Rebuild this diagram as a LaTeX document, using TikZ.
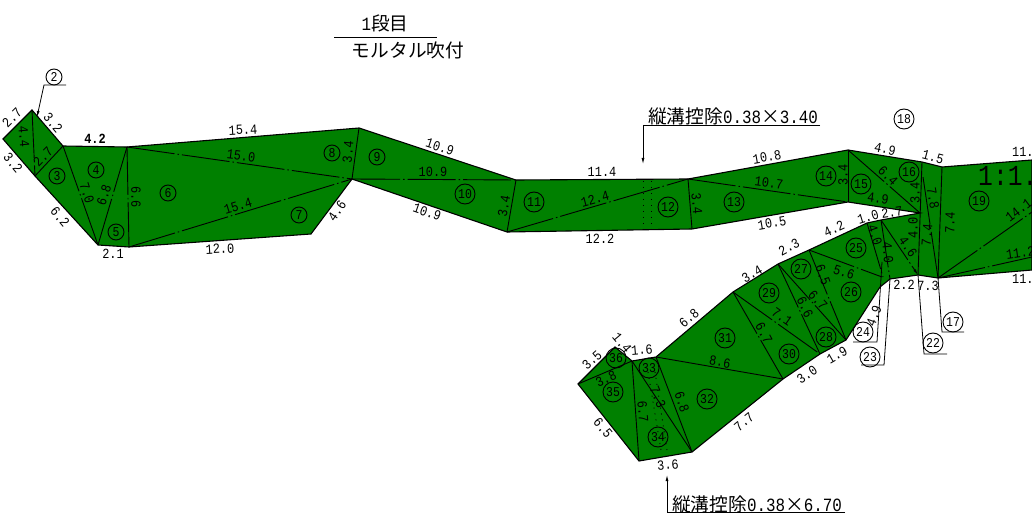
\documentclass[tikz,border=0pt]{standalone}
\usepackage{fontspec}
\setmainfont[FakeStretch=0.85]{Liberation Mono}
\newfontfamily\jpfont{Noto Sans CJK JP}
\usetikzlibrary{arrows.meta}
\definecolor{slopegreen}{RGB}{0,128,0}
\tikzset{
  outline/.style={draw=black,line width=1.1pt,fill=slopegreen},
  inner/.style={draw=black,line width=.9pt},
  centerline/.style={inner,dash pattern=on 48pt off 3pt on 1.5pt off 3pt},
  dotline/.style={draw=black,line width=.9pt,dash pattern=on 1pt off 5pt},
  leader/.style={draw=black,line width=.8pt},
  lbl/.style={inner sep=0pt,font=\fontsize{14}{15}\selectfont},
  numc/.style={draw=black,circle,inner sep=0pt,minimum size=16pt,line width=.9pt,font=\fontsize{13.5}{15}\selectfont},
  numw/.style={numc,minimum size=20pt},
  note/.style={inner sep=0pt,font=\fontsize{18.7}{20}\selectfont}
}
\begin{document}
\begin{tikzpicture}[x=1pt,y=-1pt]
\useasboundingbox (0,0) rectangle (1032,518);
\clip (0,0) rectangle (1032,518);

% outer edge
\coordinate (a1) at (32,110);
\coordinate (a2) at (63,146);
\coordinate (a3) at (127,147);
\coordinate (a4) at (359,128);
\coordinate (a5) at (516,180);
\coordinate (a6) at (688,179);
\coordinate (a7) at (848,150);
\coordinate (a8) at (922,162);
\coordinate (a9) at (942,167);
\coordinate (b1) at (938,278);
\coordinate (b2) at (918,275);
\coordinate (b3) at (890,279);
\coordinate (b4) at (880,287);
\coordinate (b5) at (846,340);
\coordinate (b6) at (820,354);
\coordinate (b7) at (783,379);
\coordinate (b8) at (692,452);
\coordinate (b9) at (639,461);
\coordinate (c1) at (578,384);
\coordinate (c2) at (615,347);
\coordinate (c3) at (632,361);
\coordinate (c4) at (656,357);
\coordinate (c5) at (733,292);
\coordinate (c6) at (778,264);
\coordinate (c7) at (809,250);
\coordinate (c8) at (867,223);
\coordinate (c9) at (881,220);
\coordinate (d1) at (920,213);
\coordinate (d2) at (848,202);
\coordinate (d3) at (692,229);
\coordinate (d4) at (507,232);
\coordinate (d5) at (352,179);
\coordinate (d6) at (311,234);
\coordinate (d7) at (129,247);
\coordinate (d8) at (98,245);
\coordinate (d9) at (35,176);
\coordinate (e1) at (3,139);
\coordinate (e2) at (1032,160);
\coordinate (e3) at (1032,270);
\coordinate (e4) at (1032,212);
\coordinate (e5) at (1032,257);
\coordinate (e6) at (923,177);

\draw[outline] (a1) -- (a2) -- (a3) -- (a4) -- (a5) -- (a6) -- (a7) -- (a8) -- (a9) -- (e2) -- (e3)
  -- (b1) -- (b2) -- (b3) -- (b4) -- (b5) -- (b6) -- (b7) -- (b8) -- (b9) -- (c1) -- (c2) -- (c3)
  -- (c4) -- (c5) -- (c6) -- (c7) -- (c8) -- (c9) -- (d1) -- (d2) -- (d3) -- (d4) -- (d5) -- (d6)
  -- (d7) -- (d8) -- (d9) -- (e1) -- cycle;

% inner lines
\draw[centerline] (a1) -- (d9);
\draw[inner] (d9) -- (a2);
\draw[centerline] (a2) -- (d8);
\draw[centerline] (d8) -- (a3);
\draw[centerline] (a3) -- (d7);
\draw[centerline] (a3) -- (d5);
\draw[centerline] (d7) -- (d5);
\draw[inner] (a4) -- (d5);
\draw[centerline] (d5) -- (a5);
\draw[inner] (a5) -- (d4);
\draw[centerline] (d4) -- (a6);
\draw[inner] (a6) -- (d3);
\draw[centerline] (a6) -- (d2);
\draw[inner] (a7) -- (d2);
\draw[centerline] (a7) -- (d1);
\draw[inner] (a8) -- (b2);
\draw[inner] (a9) -- (b1);
\draw[centerline] (e6) -- (b1);
\draw[centerline] (b1) -- (e4);
\draw[centerline] (b1) -- (e5);
\draw[centerline,-{Latex[length=6pt,width=3pt]}] (c9) -- (b2);
\draw[centerline] (c9) -- (b3);
\draw[centerline] (c8) -- (883,277);
\draw[centerline] (c7) -- (882,277);
\draw[centerline] (c7) -- (b5);
\draw[centerline] (c6) -- (b6);
\draw[centerline] (c6) -- (b5);
\draw[centerline] (c5) -- (b6);
\draw[centerline] (c5) -- (b7);
\draw[inner] (c4) -- (b7);
\draw[inner] (c4) -- (b8);
\draw[inner] (c3) -- (b8);
\draw[inner] (c3) -- (b9);
\draw[inner] (c1) -- (c3);

% dotted lines of the ditch
\draw[dotline] (643,181) -- (643,229);
\draw[dotline] (651,181) -- (651,229);
\draw[dotline] (655,372) -- (667,450);
\draw[dotline] (648,372) -- (661,450);

% length labels, left part
\node[lbl,rotate=45] (l1) at (12,118) {2.7};
\node[lbl,rotate=-85] (l2) at (24,137) {4.4};
\node[lbl,rotate=-50] (l3) at (53,123) {3.2};
\node[lbl,rotate=-50] (l4) at (13,163) {3.2};
\node[lbl,rotate=45] (l5) at (43,157) {2.7};
\node[lbl,font=\fontsize{14}{15}\selectfont\bfseries] (l6) at (95,139) {4.2};
\node[lbl,rotate=3] (l7) at (243,130) {15.4};
\node[lbl,rotate=-7] (l8) at (241,156) {15.0};
\node[lbl,rotate=-72] (l9) at (87,193) {7.0};
\node[lbl,rotate=72] (l10) at (104,195) {6.8};
\node[lbl,rotate=-90] (l11) at (136,197) {6.6};
\node[lbl,rotate=-50] (l12) at (60,217) {6.2};
\node[lbl] (l13) at (113,254) {2.1};
\node[lbl,rotate=3] (l14) at (220,249) {12.0};
\node[lbl,rotate=17] (l15) at (238,206) {15.4};
\node[lbl,rotate=55] (l16) at (337,211) {4.6};
\node[lbl,rotate=85] (l17) at (348,152) {3.4};
\node[lbl,rotate=-18] (l18) at (440,147) {10.9};
\node[lbl] (l19) at (433,172) {10.9};
\node[lbl,rotate=-19] (l20) at (427,212) {10.9};
\node[lbl,rotate=80] (l21) at (504,206) {3.4};
\node[lbl] (l22) at (602,172) {11.4};
\node[lbl,rotate=15] (l23) at (595,199) {12.4};
\node[lbl] (l24) at (600,239) {12.2};
\node[lbl,rotate=-85] (l25) at (697,204) {3.4};
\node[lbl,rotate=10] (l26) at (767,157) {10.8};
\node[lbl,rotate=-8] (l27) at (769,183) {10.7};
\node[lbl,rotate=10] (l28) at (772,223) {10.5};
\node[lbl,rotate=90] (l29) at (843,175) {3.4};
\node[lbl,rotate=-12] (l30) at (885,149) {4.9};
\node[lbl,rotate=-45] (l31) at (888,176) {6.4};
\node[lbl,rotate=-8] (l32) at (878,198) {4.9};
\node[lbl,rotate=-15] (l33) at (933,157) {1.5};
\node[lbl,rotate=90] (l34) at (915,193) {3.4};
\node[lbl,rotate=-80] (l35) at (933,198) {7.8};
\node[lbl,rotate=88] (l36) at (950,223) {7.4};
\node[lbl,rotate=85] (l37) at (927,235) {7.4};
\node[lbl,rotate=90] (l38) at (913,228) {4.0};
\node[lbl,rotate=-55] (l39) at (908,247) {4.6};
\node[lbl,rotate=-85] (l40) at (888,253) {4.0};
\node[lbl,rotate=-72] (l41) at (875,235) {4.0};
\node[lbl,rotate=17] (l42) at (868,217) {1.0};
\node[lbl,rotate=8] (l43) at (892,212) {2.7};
\node[lbl,rotate=25] (l44) at (834,229) {4.2};
\node[lbl,rotate=28] (l45) at (789,247) {2.3};
\node[lbl,rotate=-18] (l46) at (844,272) {5.6};
\node[lbl,rotate=-70] (l47) at (823,275) {6.5};
\node[lbl,rotate=-48] (l48) at (818,300) {6.7};
\node[lbl,rotate=-65] (l49) at (805,307) {6.6};
\node[lbl,rotate=-35] (l50) at (782,317) {7.1};
\node[lbl,rotate=-62] (l51) at (764,333) {6.7};
\node[lbl,rotate=30] (l52) at (752,274) {3.4};
\node[lbl,rotate=40] (l53) at (689,318) {6.8};
\node[lbl,rotate=-10] (l54) at (720,362) {8.6};
\node[lbl,rotate=35] (l55) at (807,375) {3.0};
\node[lbl,rotate=30] (l56) at (837,355) {1.9};
\node[lbl] (l57) at (904,285) {2.2};
\node[lbl] (l58) at (928,286) {7.3};
\node[lbl,rotate=70] (l59) at (874,316) {4.9};
\node[lbl,rotate=-50] (l60) at (622,343) {1.4};
\node[lbl,rotate=5] (l61) at (642,350) {1.6};
\node[lbl,rotate=42] (l62) at (592,360) {3.5};
\node[lbl,rotate=25] (l63) at (606,379) {3.8};
\node[lbl,rotate=-68] (l64) at (658,397) {7.3};
\node[lbl,rotate=-72] (l65) at (682,402) {6.8};
\node[lbl,rotate=-85] (l66) at (643,412) {6.7};
\node[lbl,rotate=40] (l67) at (744,422) {7.7};
\node[lbl,rotate=-50] (l68) at (603,428) {6.5};
\node[lbl,rotate=5] (l69) at (668,465) {3.6};
\node[lbl,anchor=west] (l70) at (1012,152) {11.};
\node[lbl,rotate=37,anchor=west] (l71) at (1007,219) {14.1};
\node[lbl,rotate=8,anchor=west] (l72) at (1006,255) {11.2};
\node[lbl,anchor=west] (l73) at (1012,279) {11.};
\node[inner sep=0pt,anchor=west,font=\fontsize{29}{30}\selectfont] (scale) at (978,176) {1:1.};

% numbered circles
\node[numc] (n2) at (54,77) {2};
\node[numc] (n3) at (57,176) {3};
\node[numc] (n4) at (96,170) {4};
\node[numc] (n5) at (116,232) {5};
\node[numc] (n6) at (168,193) {6};
\node[numc] (n7) at (299,215) {7};
\node[numc] (n8) at (332,153) {8};
\node[numc] (n9) at (377,157) {9};
\node[numw] (n10) at (465,194) {10};
\node[numw] (n11) at (534,202) {11};
\node[numw] (n12) at (668,207) {12};
\node[numw] (n13) at (734,202) {13};
\node[numw] (n14) at (826,176) {14};
\node[numw] (n15) at (861,184) {15};
\node[numw] (n16) at (909,172) {16};
\node[numw] (n17) at (953,322) {17};
\node[numw] (n18) at (904,119) {18};
\node[numw] (n19) at (979,201) {19};
\node[numw] (n22) at (933,343) {22};
\node[numw] (n23) at (870,357) {23};
\node[numw] (n24) at (863,332) {24};
\node[numw] (n25) at (856,248) {25};
\node[numw] (n26) at (851,292) {26};
\node[numw] (n27) at (801,269) {27};
\node[numw] (n28) at (826,337) {28};
\node[numw] (n29) at (769,293) {29};
\node[numw] (n30) at (789,354) {30};
\node[numw] (n31) at (725,338) {31};
\node[numw] (n32) at (707,399) {32};
\node[numw] (n33) at (649,368) {33};
\node[numw] (n34) at (658,437) {34};
\node[numw] (n35) at (613,392) {35};
\node[numw] (n36) at (616,358) {36};

% leaders of the numbers
\draw[leader,-{Latex[length=6pt,width=3pt]}] (66,85) -- (44,85) -- (37,117);
\draw[leader] (b1) -- (942,332) -- (964,332);
\draw[leader] (b2) -- (924,354) -- (947,354);
\draw[leader] (b3) -- (884,365) -- (861,365);
\draw[leader] (882,262) -- (877,342) -- (853,342);

% notes
\node[note] (tit1) at (385,23) {1{\jpfont 段目}};
\draw[leader] (334,37) -- (437,37);
\node[note,font=\jpfont\fontsize{18.7}{20}\selectfont] (tit2) at (408,50) {モルタル吹付};
\node[note,anchor=west] (ded1) at (648,116) {{\jpfont 縦溝控除}0.38{\jpfont ×}3.40};
\coordinate (ded1t) at (643,164);
\draw[leader] (820,125) -- (643,125);
\draw[leader,-{Latex[length=6pt,width=3pt]}] (643,125) -- (ded1t);
\node[note,anchor=west] (ded2) at (672,504) {{\jpfont 縦溝控除}0.38{\jpfont ×}6.70};
\coordinate (ded2t) at (667,475);
\draw[leader] (845,512) -- (667,512);
\draw[leader,-{Latex[length=6pt,width=3pt]}] (667,512) -- (ded2t);
\end{tikzpicture}
\end{document}
